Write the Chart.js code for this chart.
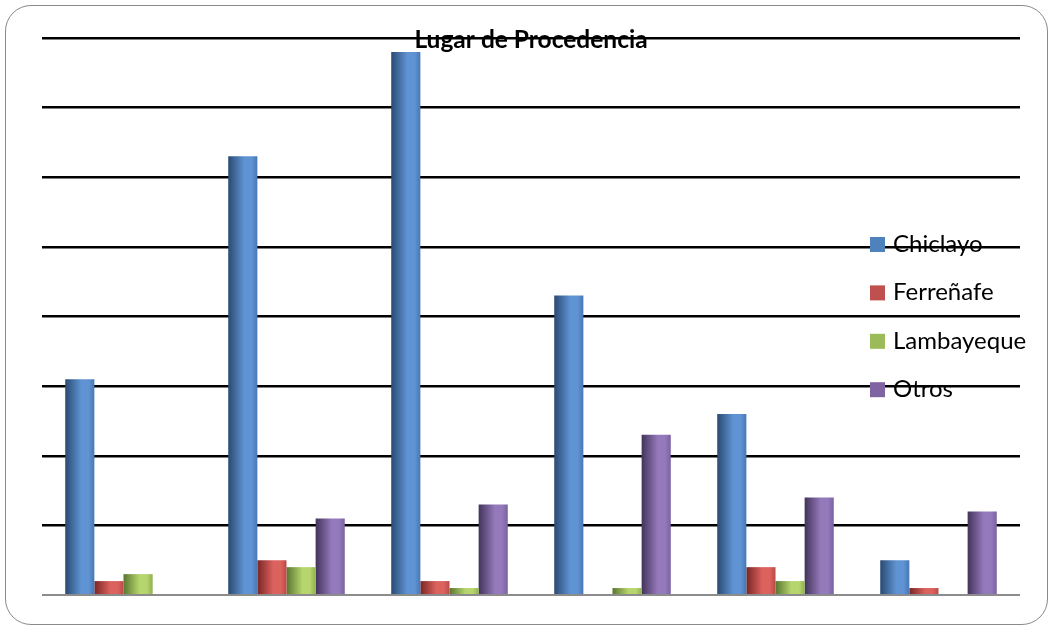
<!DOCTYPE html>
<html>
<head>
<meta charset="utf-8">
<script src="https://cdn.jsdelivr.net/npm/chart.js@4/dist/chart.umd.min.js"></script>
<style>
  html, body { margin: 0; padding: 0; background: #ffffff; }
  #frame {
    position: absolute; left: 5px; top: 5px; width: 1043px; height: 620px;
    border: 1.5px solid #8a8a8a; border-radius: 26px; box-sizing: border-box;
    background: #ffffff;
  }
  #wrap { position: absolute; left: 0; top: 0; width: 1053px; height: 628px; }
</style>
</head>
<body>
<div id="frame"></div>
<div id="wrap"><canvas id="chart" width="1053" height="628"></canvas></div>
<script>
// Lugar de procedencia por grupo (6 grupos, 4 lugares)
const categories = ["1", "2", "3", "4", "5", "6"];
const chiclayo   = [31, 63, 78, 43, 26, 5];
const ferrenafe  = [2, 5, 2, 0, 4, 1];
const lambayeque = [3, 4, 1, 1, 2, 0];
const otros      = [0, 11, 13, 23, 14, 12];
const seriesNames = ["Chiclayo", "Ferreñafe", "Lambayeque", "Otros"];
const yTicks = [0, 10, 20, 30, 40, 50, 60, 70, 80];
const chartTitle = "Lugar de Procedencia";

// cylinder-like shading: [dark edge, light, mid, legend swatch]
const shades = [
  ["#2a4a72", "#5f93d3", "#4878b5", "#4f81bd"],
  ["#7a2624", "#dc625e", "#b94a47", "#c0504d"],
  ["#5a7530", "#b6d66d", "#8fb04f", "#9bbb59"],
  ["#43345a", "#9479bb", "#7a62a0", "#8064a2"]
];

// each bar gets its own horizontal gradient once its position is known
const shadePlugin = {
  id: "shade",
  beforeDatasetDraw(chart, args) {
    const ctx = chart.ctx;
    const s = shades[args.index];
    args.meta.data.forEach(bar => {
      const left = bar.x - bar.width / 2, right = bar.x + bar.width / 2;
      const g = ctx.createLinearGradient(left, 0, right, 0);
      g.addColorStop(0, s[0]);
      g.addColorStop(0.55, s[1]);
      g.addColorStop(0.8, s[1]);
      g.addColorStop(1, s[2]);
      bar.options.backgroundColor = g;
    });
  }
};

const overlayPlugin = {
  id: "overlay",
  afterDraw(chart) {
    const ctx = chart.ctx;
    ctx.save();
    // title
    ctx.fillStyle = "#000000";
    ctx.font = "bold 24.5px Lato";
    ctx.textAlign = "center";
    ctx.textBaseline = "alphabetic";
    ctx.fillText(chartTitle, 531, 48);
    // legend
    ctx.textAlign = "left";
    ctx.font = "24px Lato";
    const y0 = 252, dy = 48.4;
    chart.data.datasets.forEach((ds, i) => {
      const y = y0 + i * dy;
      ctx.fillStyle = shades[i][3];
      ctx.fillRect(870, y - 15, 15, 15);
      ctx.fillStyle = "#000000";
      ctx.fillText(ds.label, 893, y);
    });
    ctx.restore();
  }
};

const seriesData = [chiclayo, ferrenafe, lambayeque, otros];

new Chart(document.getElementById("chart"), {
  type: "bar",
  data: {
    labels: categories,
    datasets: seriesData.map((d, i) => ({
      label: seriesNames[i],
      data: d,
      backgroundColor: () => shades[i][3],
      borderWidth: 0,
      barPercentage: 1.0,
      categoryPercentage: 0.715
    }))
  },
  options: {
    responsive: false,
    animation: false,
    layout: { padding: { left: 42, right: 33, top: 38, bottom: 25 } },
    plugins: { legend: { display: false }, title: { display: false }, tooltip: { enabled: false } },
    scales: {
      x: {
        grid: { display: false },
        border: { display: false },
        ticks: { display: false }
      },
      y: {
        min: 0, max: 80,
        afterBuildTicks(axis) { axis.ticks = yTicks.map(v => ({ value: v })); },
        ticks: { display: false },
        border: { display: false },
        grid: {
          drawTicks: false,
          color: c => c.tick && c.tick.value === 0 ? "#8c8c8c" : "#000000",
          lineWidth: c => c.tick && c.tick.value === 0 ? 2 : 2.5
        }
      }
    }
  },
  plugins: [shadePlugin, overlayPlugin]
});
</script>
</body>
</html>
